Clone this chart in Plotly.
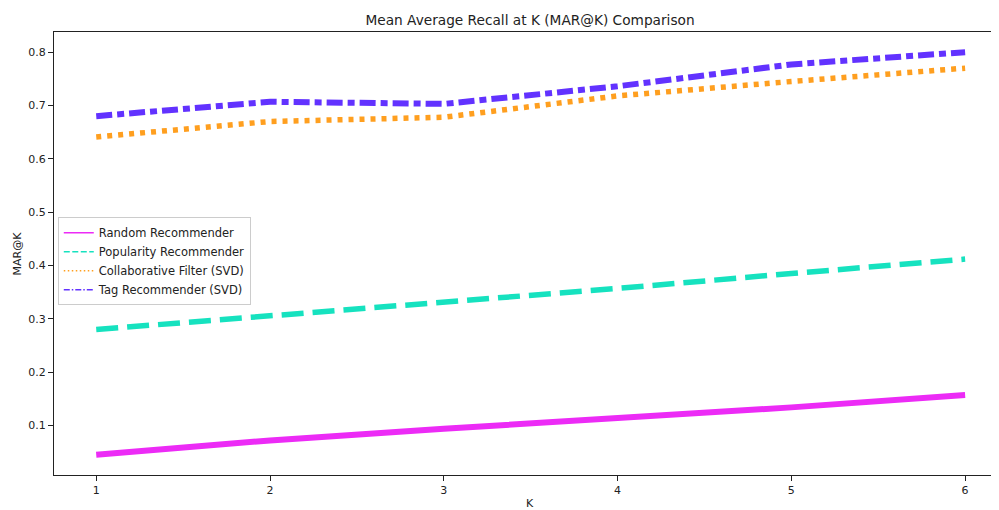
import plotly.graph_objects as go

k_values = [1, 2, 3, 4, 5, 6]
random_rec = [0.045, 0.072, 0.094, 0.113, 0.134, 0.157]
popularity_rec = [0.280, 0.305, 0.330, 0.357, 0.385, 0.412]
collab_svd = [0.641, 0.670, 0.678, 0.718, 0.745, 0.770]
tag_svd = [0.680, 0.707, 0.703, 0.736, 0.777, 0.800]

series = [
    ("Random Recommender", random_rec, "#EC2BF6", "solid", 6),
    ("Popularity Recommender", popularity_rec, "#16E2BF", "22px,9px", 5.5),
    ("Collaborative Filter (SVD)", collab_svd, "#FF9F1F", "5px,6px", 5.5),
    ("Tag Recommender (SVD)", tag_svd, "#6232FF", "16px,5px,7px,5px", 6),
]

fig = go.Figure()
for name, vals, color, dash, w in series:
    fig.add_trace(go.Scatter(x=k_values, y=vals, mode="lines", name=name,
                             line=dict(color=color, width=w, dash=dash),
                             showlegend=False))
legend_dash = {"solid": "solid", "22px,9px": "6px,2.5px", "5px,6px": "1.5px,2.5px",
               "16px,5px,7px,5px": "6px,2px,1.5px,2px"}
for name, vals, color, dash, w in series:
    fig.add_trace(go.Scatter(x=[None], y=[None], mode="lines", name=name,
                             line=dict(color=color, width=1.5, dash=legend_dash[dash]),
                             showlegend=True))

# page body has an 8px margin, so the figure is sized 991x502
W, H = 991, 502
fig.update_layout(
    width=W, height=H,
    margin=dict(l=46, r=0, t=24, b=35, autoexpand=False),
    paper_bgcolor="white", plot_bgcolor="white",
    font=dict(family="DejaVu Sans", size=11, color="#222"),
    title=dict(text="Mean Average Recall at K (MAR@K) Comparison",
               x=(522 / W), xanchor="center", y=1 - 12 / H, yanchor="middle",
               font=dict(family="DejaVu Sans", size=13.7, color="#222")),
    legend=dict(x=0.004, y=0.582, xanchor="left", yanchor="top",
                bgcolor="rgba(255,255,255,0.8)", bordercolor="#cccccc", borderwidth=1,
                font=dict(family="DejaVu Sans", size=11.5, color="#222"),
                tracegroupgap=0, itemwidth=30),
    showlegend=True,
    annotations=[
        dict(text="K", xref="paper", yref="paper", x=(530 - 54) / 945, y=0,
             yshift=-28, xanchor="center", yanchor="middle", showarrow=False,
             font=dict(family="DejaVu Sans", size=11, color="#222")),
        dict(text="MAR@K", xref="paper", yref="paper", x=0, y=0.5, xshift=-37,
             textangle=-90, xanchor="center", yanchor="middle", showarrow=False,
             font=dict(family="DejaVu Sans", size=11, color="#222")),
    ],
)
fig.update_xaxes(range=[0.757, 6.195], tickvals=k_values, ticktext=[str(v) for v in k_values],
                 showgrid=False, zeroline=False, showline=True, linecolor="#222", linewidth=1,
                 mirror=True, ticks="outside", ticklen=5, tickcolor="#222", automargin=False)
fig.update_yaxes(range=[0.0072, 0.8378], tickvals=[0.1, 0.2, 0.3, 0.4, 0.5, 0.6, 0.7, 0.8],
                 ticktext=["0.1", "0.2", "0.3", "0.4", "0.5", "0.6", "0.7", "0.8"],
                 showgrid=False, zeroline=False, showline=True, linecolor="#222", linewidth=1,
                 ticks="outside", ticklen=5, tickcolor="#222", automargin=False)

fig.write_html("out.html")
